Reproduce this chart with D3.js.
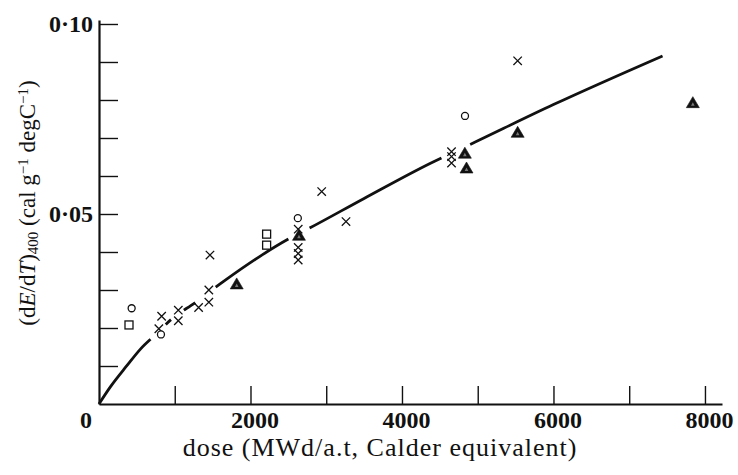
<!DOCTYPE html>
<html>
<head>
<meta charset="utf-8">
<script src="https://cdn.jsdelivr.net/npm/d3@7"></script>
<style>
  html, body { margin: 0; padding: 0; background: #fff; }
  svg { display: block; }
  text { font-family: "Liberation Serif", "Times New Roman", serif; fill: #111; }
</style>
</head>
<body>
<svg id="chart" width="738" height="475"></svg>
<script>
// Fitted trend line: dose (MWd/a.t) and (dE/dT)400
const fitDose  = [0, 150, 365, 550, 760, 950, 1270, 1640, 2120, 2500, 2780, 3500, 4370, 4900, 6000, 7440];
const fitValue = [0, 0.0045, 0.0100, 0.0145, 0.0185, 0.0222, 0.0267, 0.0322, 0.0388, 0.0434, 0.0463, 0.0541, 0.0633, 0.0683, 0.0788, 0.0916];
// Dose intervals over which the trend line is inked (it breaks around clustered points)
const fitSegments = [[0, 680], [880, 950], [1120, 1270], [1540, 2500], [2780, 4520], [4900, 7440]];

// Measurements, one pair of arrays per symbol
const crossDose  = [790, 827, 1047, 1047, 1315, 1450, 1450, 1465, 2630, 2630, 2630, 2630, 2940, 3261, 4654, 4654, 4654, 5527];
const crossValue = [0.0198, 0.0231, 0.0247, 0.0219, 0.0254, 0.0300, 0.0268, 0.0392, 0.0460, 0.0412, 0.0396, 0.0379, 0.0559, 0.0480, 0.0664, 0.0651, 0.0634, 0.0903];

const circleDose  = [431, 818, 2625, 4832];
const circleValue = [0.0252, 0.0183, 0.0489, 0.0758];

const squareDose  = [396, 2213, 2213];
const squareValue = [0.0208, 0.0447, 0.0418];

const triangleDose  = [1818, 2640, 4830, 4852, 5527, 7840];
const triangleValue = [0.0316, 0.0444, 0.0660, 0.0621, 0.0715, 0.0793];

// Axis ticks and labels
const xTicks = [1000, 2000, 3000, 4000, 5000, 6000, 7000, 8000];
const xTickLabels = {2000: "2000", 4000: "4000", 6000: "6000", 8000: "8000"};
const yTicks = [0.01, 0.02, 0.03, 0.04, 0.05, 0.06, 0.07, 0.08, 0.09, 0.10];
const yTickLabels = {"0.05": "0·05", "0.1": "0·10"};
const originLabel = "0";
const xTitle = "dose (MWd/a.t, Calder equivalent)";

const ink = "#111";
const svg = d3.select("#chart");

const x = d3.scaleLinear().domain([0, 8225]).range([99, 722]);
const y = d3.scaleLinear().domain([0, 0.10105]).range([404, 20]);

// ---- axes (ticks point inward) ----
const xAxis = d3.axisBottom(x)
  .tickValues(xTicks)
  .tickSizeInner(-18)
  .tickSizeOuter(0)
  .tickPadding(7)
  .tickFormat(d => xTickLabels[d] || "");

const gx = svg.append("g").attr("transform", `translate(0,${y(0)})`).call(xAxis);
gx.select(".domain").attr("stroke", ink).attr("stroke-width", 2.2);
gx.selectAll(".tick line").attr("stroke", ink).attr("stroke-width", 1.4);
gx.selectAll(".tick text")
  .attr("font-family", "Liberation Serif, serif")
  .attr("font-size", 24)
  .attr("font-weight", "bold")
  .attr("fill", ink)
  .attr("dx", 4);

const yAxis = d3.axisLeft(y)
  .tickValues(yTicks)
  .tickSizeInner(-19)
  .tickSizeOuter(0)
  .tickPadding(6)
  .tickFormat(d => yTickLabels[String(+d.toFixed(2))] || "");

const gy = svg.append("g").attr("transform", `translate(${x(0)},0)`).call(yAxis);
gy.select(".domain").attr("stroke", ink).attr("stroke-width", 2.2);
gy.selectAll(".tick line").attr("stroke", ink).attr("stroke-width", 1.4);
gy.selectAll(".tick text")
  .attr("font-family", "Liberation Serif, serif")
  .attr("font-size", 24)
  .attr("font-weight", "bold")
  .attr("fill", ink);

svg.append("text")
  .attr("x", x(0) - 7)
  .attr("y", y(0) + 24)
  .attr("text-anchor", "end")
  .attr("font-size", 24)
  .attr("font-weight", "bold")
  .text(originLabel);

// ---- axis titles ----
svg.append("text")
  .attr("x", 380)
  .attr("y", 456)
  .attr("text-anchor", "middle")
  .attr("font-size", 26)
  .attr("letter-spacing", 1)
  .text(xTitle);

const yt = svg.append("text")
  .attr("transform", "translate(35,203) rotate(-90)")
  .attr("text-anchor", "middle")
  .attr("font-size", 23);
yt.append("tspan").text("(d");
yt.append("tspan").attr("font-style", "italic").text("E");
yt.append("tspan").text("/d");
yt.append("tspan").attr("font-style", "italic").text("T");
yt.append("tspan").text(")");
yt.append("tspan").attr("font-size", 15).attr("baseline-shift", "-22%").text("400");
yt.append("tspan").text(" (cal g");
yt.append("tspan").attr("font-size", 15).attr("baseline-shift", "45%").text("−1");
yt.append("tspan").text(" degC");
yt.append("tspan").attr("font-size", 15).attr("baseline-shift", "45%").text("−1");
yt.append("tspan").text(")");

// ---- fitted line, inked only over its segments ----
const fitPts = fitDose.map((d, i) => [d, fitValue[i]]);
const line = d3.line().x(d => x(d[0])).y(d => y(d[1])).curve(d3.curveMonotoneX);
const fitPath = svg.append("path")
  .attr("d", line(fitPts))
  .attr("fill", "none")
  .attr("stroke", ink)
  .attr("stroke-width", 2.8);

const node = fitPath.node();
const total = node.getTotalLength();
function lengthAtDose(dose) {
  const target = x(dose);
  let lo = 0, hi = total;
  for (let k = 0; k < 40; k++) {
    const mid = (lo + hi) / 2;
    if (node.getPointAtLength(mid).x < target) lo = mid; else hi = mid;
  }
  return (lo + hi) / 2;
}
// dash pattern: zero-length dash, then (gap, inked segment) pairs, then a long gap
const dashes = [0];
let cursor = 0;
fitSegments.forEach(([a, b]) => {
  const la = lengthAtDose(a), lb = lengthAtDose(b);
  dashes.push(Math.max(la - cursor, 0), lb - la);
  cursor = lb;
});
dashes.push(total);
fitPath.attr("stroke-dasharray", dashes.join(" "));

// ---- markers ----
const crosses = crossDose.map((d, i) => [d, crossValue[i]]);
svg.append("g").selectAll("path").data(crosses).join("path")
  .attr("transform", d => `translate(${x(d[0])},${y(d[1])})`)
  .attr("d", "M-4.2,-4.2L4.2,4.2M-4.2,4.2L4.2,-4.2")
  .attr("stroke", ink)
  .attr("stroke-width", 1.3)
  .attr("fill", "none");

const circles = circleDose.map((d, i) => [d, circleValue[i]]);
svg.append("g").selectAll("circle").data(circles).join("circle")
  .attr("cx", d => x(d[0]))
  .attr("cy", d => y(d[1]))
  .attr("r", 3.5)
  .attr("fill", "#fff")
  .attr("stroke", ink)
  .attr("stroke-width", 1.3);

const squares = squareDose.map((d, i) => [d, squareValue[i]]);
svg.append("g").selectAll("rect").data(squares).join("rect")
  .attr("x", d => x(d[0]) - 4)
  .attr("y", d => y(d[1]) - 4)
  .attr("width", 8)
  .attr("height", 8)
  .attr("fill", "#fff")
  .attr("stroke", ink)
  .attr("stroke-width", 1.3);

// filled triangles with the faint lighter core of the printed symbol
const tris = triangleDose.map((d, i) => [d, triangleValue[i]]);
const tg = svg.append("g").selectAll("g").data(tris).join("g")
  .attr("transform", d => `translate(${x(d[0])},${y(d[1])})`);
tg.append("path")
  .attr("d", "M0,-6L6.5,5L-6.5,5Z")
  .attr("fill", ink)
  .attr("stroke", ink)
  .attr("stroke-width", 0.6);
tg.append("path")
  .attr("d", "M0,-0.5L1.8,3L-1.8,3Z")
  .attr("fill", "#777");
</script>
</body>
</html>
